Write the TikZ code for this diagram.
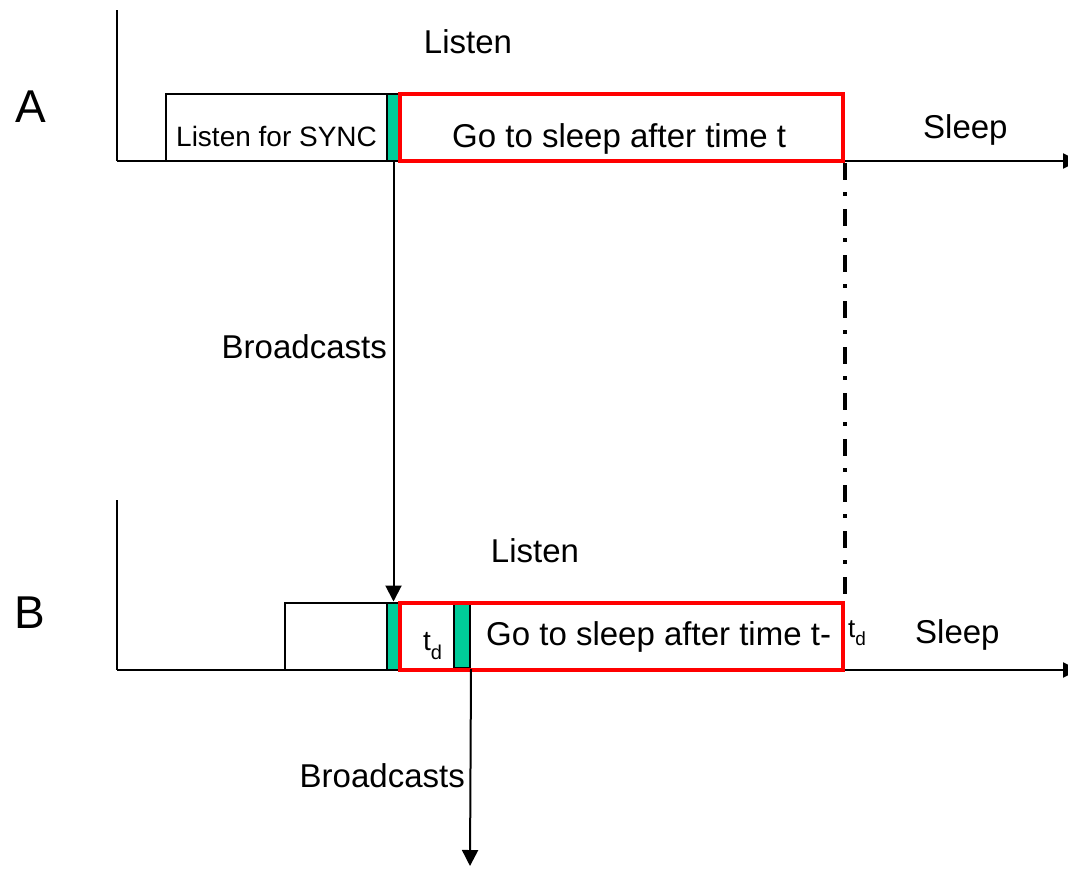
\documentclass[tikz,border=0pt]{standalone}
\usepackage{fontspec}
\setmainfont{Liberation Sans}
\usetikzlibrary{arrows.meta}
\definecolor{syncgreen}{RGB}{0,204,153}
\definecolor{boxred}{RGB}{255,0,0}
\begin{document}
\begin{tikzpicture}[x=1pt,y=-1pt,
  lbl/.style={font=\fontsize{33}{40}\selectfont, inner sep=0pt},
  smalllbl/.style={font=\fontsize{28}{34}\selectfont, inner sep=0pt},
  biglbl/.style={font=\fontsize{46}{52}\selectfont, inner sep=0pt},
  plainbox/.style={draw=black, line width=2pt, rectangle, inner sep=0pt, minimum height=67pt},
  greenbar/.style={draw=black, fill=syncgreen, line width=2pt, rectangle, inner sep=0pt, minimum height=67pt},
  redbox/.style={draw=boxred, line width=4pt, rectangle, inner sep=0pt, minimum height=67pt, minimum width=443pt},
  axisline/.style={draw=black, line width=2pt, -{Triangle[width=15pt,length=16pt]}},
  msgarrow/.style={draw=black, line width=2pt, -{Triangle[width=16pt,length=16pt]}},
  dashdotline/.style={draw=black, line width=4pt, dash pattern=on 17pt off 12pt on 4pt off 13pt}
]
\clip (0,0) rectangle (1068,870);
\fill[white] (0,0) rectangle (1068,870);

% ---------- A ----------
\coordinate (topA) at (117,10);
\coordinate (orgA) at (117,161);
\coordinate (endA) at (1079,161);
\draw[line width=2pt] (topA) -- (orgA);
\draw[axisline] (orgA) -- (endA);

\node[plainbox, minimum width=221pt] (syncA) at (276.5,127.5) {};
\node[greenbar, minimum width=13pt] (gA) at (393.5,127.5) {};
\node[redbox] (rA) at (621.5,127.5) {};

\node[biglbl, anchor=base west] (labA) at (15,122) {A};
\node[lbl, anchor=base] (lisA) at (468,53) {Listen};
\node[smalllbl, anchor=base west] (syncT) at (176,146) {Listen for SYNC};
\node[lbl, anchor=base west] (goA) at (452,147) {Go to sleep after time t};
\node[lbl, anchor=base west] (sleepA) at (923,138) {Sleep};

% ---------- B ----------
\coordinate (topB) at (117,500);
\coordinate (orgB) at (117,670);
\coordinate (endB) at (1079,670);
\draw[line width=2pt] (topB) -- (orgB);
\draw[axisline] (orgB) -- (endB);

\node[plainbox, minimum width=102pt] (boxB) at (336,636) {};
\node[greenbar, minimum width=13pt] (gB) at (393.5,636) {};
\node[greenbar, minimum width=16pt, minimum height=64pt] (gB2) at (462,636) {};
\node[redbox] (rB) at (621.5,636) {};

\node[biglbl, anchor=base west] (labB) at (14,628) {B};
\node[lbl, anchor=base] (lisB) at (535,562) {Listen};
\node[smalllbl, anchor=base west] (tdIn) at (423,650) {t\raisebox{-9pt}{\fontsize{20}{20}\selectfont d}};
\node[lbl, anchor=base west] (goB) at (486,645) {Go to sleep after time t-};
\node[font=\fontsize{26}{30}\selectfont, inner sep=0pt, anchor=base west] (tdOut) at (848,637) {t\raisebox{-8pt}{\fontsize{19}{20}\selectfont d}};
\node[lbl, anchor=base west] (sleepB) at (915,643) {Sleep};

% ---------- connectors ----------
\draw[msgarrow] (gA.south) -- (gB.north);
\node[lbl, anchor=base east] (bcA) at (387,358) {Broadcasts};

\coordinate (bcEnd) at (470,866);
\draw[msgarrow] (gB2.south east) -- (bcEnd);
\node[lbl, anchor=base east] (bcB) at (465,787) {Broadcasts};

\draw[dashdotline] (rA.south east) -- (rB.north east);
\end{tikzpicture}
\end{document}
